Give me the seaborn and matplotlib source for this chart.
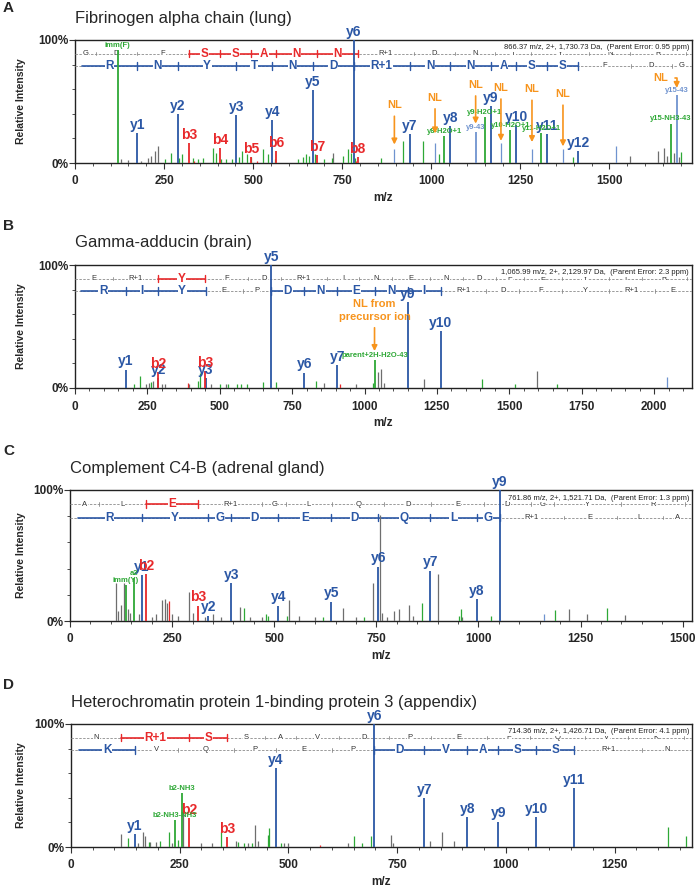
import re
import numpy as np
import matplotlib
matplotlib.use("Agg")
import matplotlib.pyplot as plt
import seaborn as sns

# ------------------------------------------------------------
# Annotated MS/MS spectra of four citrullinated peptides
# ------------------------------------------------------------

panel_tags = ["A", "B", "C", "D"]
titles = ["Fibrinogen alpha chain (lung)",
          "Gamma-adducin (brain)",
          "Complement C4-B (adrenal gland)",
          "Heterochromatin protein 1-binding protein 3 (appendix)"]
parent_info = ["866.37 m/z, 2+, 1,730.73 Da,  (Parent Error: 0.95 ppm)",
               "1,065.99 m/z, 2+, 2,129.97 Da,  (Parent Error: 2.3 ppm)",
               "761.86 m/z, 2+, 1,521.71 Da,  (Parent Error: 1.3 ppm)",
               "714.36 m/z, 2+, 1,426.71 Da,  (Parent Error: 4.1 ppm)"]
parent_da = [1730.73, 2129.97, 1521.71, 1426.71]

# peptide sequences (N -> C) and covered fragment ranges (b row, y row)
A_seq = "G D F S S A N N R+1 D N T Y N R".split()
A_b_cov = [(3, 8)]
A_y_cov = [(0, 12)]
B_seq = "E R+1 Y F D R+1 I N E N D P E Y I R".split()
B_b_cov = [(2, 3)]
B_y_cov = [(0, 3), (5, 10)]
C_seq = "A L E R+1 G L Q D E D G Y R".split()
C_b_cov = [(2, 3)]
C_y_cov = [(0, 9)]
D_seq = "N R+1 S S A V D P E P Q V K".split()
D_b_cov = [(1, 3)]
D_y_cov = [(0, 1), (6, 11)]

# labelled fragment ions
A_ion_lab = ["y1", "y2", "y3", "y4", "y5", "y6", "y7", "y8", "y9", "y10", "y11", "y12",
             "b3", "b4", "b5", "b6", "b7", "b8", "imm(F)", "y8-H2O+1", "y9-43",
             "y9-H2O+1", "y10-H2O+1", "y11-H2O+1", "y15-NH3-43", "y15-43"]
A_ion_mz = [175.12, 289.16, 452.23, 553.27, 667.32, 782.34, 939.43, 1053.47, 1167.51,
            1238.55, 1325.58, 1412.62, 320.12, 407.16, 494.19, 565.23, 679.27, 793.31,
            120.08, 1036.5, 1124.5, 1150.5, 1221.5, 1308.6, 1671.7, 1688.7]
A_ion_int = [24, 40, 39, 35, 59, 100, 23.5, 30, 46, 31, 23.5, 9.5,
             16, 12, 5, 9.5, 6.5, 5, 92, 22, 25, 37, 27, 24, 32, 55]
A_ion_col = ["b"] * 12 + ["r"] * 6 + ["g", "g", "lb", "g", "g", "g", "g", "lb"]

B_ion_lab = ["y1", "y2", "y3", "y5", "y6", "y7", "y9", "y10", "b2", "b3", "parent+2H-H2O-43"]
B_ion_mz = [175.12, 288.16, 451.23, 677.33, 792.36, 906.40, 1149.49, 1262.57, 287.13, 450.20, 1034.5]
B_ion_int = [15, 8, 8, 100, 12.5, 18.5, 70, 46.5, 13, 13.5, 22.5]
B_ion_col = ["b"] * 8 + ["r", "r", "g"]

C_ion_lab = ["y1", "y2", "y3", "y4", "y5", "y6", "y7", "y8", "y9", "b2", "b3", "imm(Y)", "a2"]
C_ion_mz = [175.12, 338.18, 395.20, 510.23, 639.27, 754.30, 882.36, 995.44, 1052.46,
            185.13, 314.17, 136.08, 157.13]
C_ion_int = [35, 4, 28.8, 11.7, 14.7, 41.5, 38.4, 16.5, 100, 36, 11.7, 27.5, 32.6]
C_ion_col = ["b"] * 9 + ["r", "r", "g", "g"]

D_ion_lab = ["y1", "y4", "y6", "y7", "y8", "y9", "y10", "y11", "b2", "b3", "b2-NH3", "b2-NH3-NH3"]
D_ion_mz = [147.11, 471.29, 697.38, 812.41, 911.48, 982.52, 1069.55, 1156.58,
            272.13, 359.17, 255.10, 238.10]
D_ion_int = [10.5, 64, 100, 40, 24.5, 20.7, 24.5, 47.8, 23.4, 8, 43.5, 22]
D_ion_col = ["b"] * 8 + ["r", "r", "g", "g"]

# unlabelled peaks (m/z, relative intensity %, colour code)
A_pk_mz = [128, 150, 185, 204, 213, 224, 233, 723, 1558, 1636, 1652, 1662, 1680, 1695,
           252, 270, 292, 301, 330, 345, 360, 386, 397, 410, 425, 440, 461, 470, 484, 495,
           528, 543, 560, 627, 639, 648, 657, 674, 700, 720, 751, 765, 775, 785, 859, 921,
           976, 1021, 1397, 1700,
           896.4, 1010.5, 1195.5, 1282.6, 1369.6, 1519,
           335, 512, 790]
A_pk_int = [3, 2.5, 2, 4, 6, 9.5, 14, 8, 6, 9.5, 12, 6, 8, 5,
            3, 8, 4, 7, 4, 3, 4, 12, 8, 3, 3, 3, 5, 9.5, 7, 5,
            11, 7.5, 3, 3, 4.5, 7, 6, 7, 3, 4, 6, 11, 8, 4, 4, 18,
            18, 7, 5, 9,
            11, 16, 16, 11, 11, 14,
            2, 2, 2]
A_pk_col = ["k"] * 14 + ["g"] * 36 + ["lb"] * 6 + ["r"] * 3

B_pk_mz = [245, 255, 270, 300, 310, 395, 470, 520, 860, 970, 1046, 1057, 1068, 1207, 1597,
           205, 225, 262, 425, 432, 500, 530, 560, 575, 595, 651, 695, 832, 1028, 1405, 1520, 1665,
           390, 915, 2045]
B_pk_int = [3, 4, 6, 3, 3, 3, 3, 3.5, 4, 3.5, 13, 15.5, 4, 7, 13.5,
            3, 9.5, 5, 6, 12, 3, 3, 3, 3, 3, 5, 5, 5.4, 4, 7, 3.5, 3.5,
            4, 3, 8.6]
B_pk_col = ["k"] * 15 + ["g"] * 17 + ["r", "r", "lb"]

C_pk_mz = [112, 118, 125, 132, 142, 148, 170, 200, 210, 225.6, 232, 237, 250, 265, 291, 300,
           330, 350, 370, 416, 440, 470, 536, 560, 600, 668, 700, 741, 760, 765, 777, 794, 806,
           829, 840, 901, 960, 1221, 1265, 1359,
           425, 480, 485, 531, 620, 720, 861, 953, 958, 1031, 1187, 1314,
           243, 1161]
C_pk_int = [28.7, 8, 12, 29, 9, 6, 5, 3, 5, 16, 17, 14, 5, 4, 22, 6,
            3, 5, 3, 11, 3, 3, 16, 4, 3, 10, 3, 28.8, 81, 6, 3, 8, 9,
            12, 4, 36, 3, 9, 5, 4.6,
            10, 5, 4, 4, 3, 3, 13.5, 4, 9, 4, 8.4, 9.7,
            15, 5]
C_pk_col = ["k"] * 40 + ["g"] * 12 + ["r", "lb"]

D_pk_mz = [116, 155, 166, 171, 182, 195, 232, 258, 300, 325, 380, 408, 424, 430, 490, 500,
           636, 735, 740, 825, 853, 881,
           130, 180, 204, 226, 246, 345, 385, 398, 415, 452, 456, 483, 650, 668, 690, 1372, 1414,
           573]
D_pk_int = [10.5, 3, 12, 8.6, 4, 4, 3, 34, 3, 3, 5, 3, 18, 5, 3, 3,
            3, 9.4, 3, 5, 12, 5,
            7, 4, 5, 12.6, 6, 12.6, 4, 3, 3, 10, 15.3, 3, 8.6, 3, 9, 16.6, 9,
            2]
D_pk_col = ["k"] * 22 + ["g"] * 17 + ["r"]

# neutral-loss call-outs
A_nl_mz = [896.4, 1010.5, 1124.5, 1195.5, 1282.6, 1369.6]
A_nl_text_y = [47, 53, 63.5, 61, 60, 56]
A_nl_tip_y = [15, 24, 32, 18, 17, 13.5]

# ------------------------------------------------------------
RES_MASS = {"G": 57.02146, "A": 71.03711, "S": 87.03203, "P": 97.05276, "V": 99.06841,
            "T": 101.04768, "L": 113.08406, "I": 113.08406, "N": 114.04293, "D": 115.02694,
            "Q": 128.05858, "K": 128.09496, "E": 129.04259, "F": 147.06841, "R": 156.10111,
            "Y": 163.06333, "R+1": 157.08513}
PROTON = 1.00728
WATER = 18.01056

BLUE = "#2b57a5"
RED = "#e8292b"
GREEN = "#2ea836"
GREY = "#6e6e6e"
LBLUE = "#6f93cf"
ORANGE = "#f7941d"
PEAK_COLORS = {"k": GREY, "g": GREEN, "b": BLUE, "r": RED, "lb": LBLUE}

sns.set_theme(style="ticks")
plt.rcParams["font.family"] = ["Liberation Sans", "DejaVu Sans"]

panels = [
    dict(seq=A_seq, b_cov=A_b_cov, y_cov=A_y_cov, ion=(A_ion_lab, A_ion_mz, A_ion_int, A_ion_col),
         pk=(A_pk_mz, A_pk_int, A_pk_col)),
    dict(seq=B_seq, b_cov=B_b_cov, y_cov=B_y_cov, ion=(B_ion_lab, B_ion_mz, B_ion_int, B_ion_col),
         pk=(B_pk_mz, B_pk_int, B_pk_col)),
    dict(seq=C_seq, b_cov=C_b_cov, y_cov=C_y_cov, ion=(C_ion_lab, C_ion_mz, C_ion_int, C_ion_col),
         pk=(C_pk_mz, C_pk_int, C_pk_col)),
    dict(seq=D_seq, b_cov=D_b_cov, y_cov=D_y_cov, ion=(D_ion_lab, D_ion_mz, D_ion_int, D_ion_col),
         pk=(D_pk_mz, D_pk_int, D_pk_col)),
]

# axes boxes in pixels: left, right, top, bottom
boxes = [(75, 692, 40, 163), (75, 692, 265, 388), (70, 692, 490, 621), (71, 692, 724, 847)]
W, H = 696, 890


def draw_row(ax, residues, start, cov, y, color, xmax):
    bounds = start + np.concatenate([[0], np.cumsum([RES_MASS[r] for r in residues])])
    ax.plot([0, xmax], [y, y], color="#9a9a9a", lw=0.7, ls=(0, (2.5, 1.5)), zorder=3)
    for bx in bounds[1:]:
        ax.plot([bx, bx], [y - 1.5, y + 1.5], color="#8a8a8a", lw=0.6, zorder=3)
    for i0, i1 in cov:
        ax.plot([bounds[i0], bounds[i1]], [y, y], color=color, lw=1.2, zorder=4)
        for bx in bounds[i0:i1 + 1]:
            if bx > 0.02 * xmax:
                ax.plot([bx, bx], [y - 3, y + 3], color=color, lw=1.0, zorder=4)
    for i, r in enumerate(residues):
        mid = (bounds[i] + bounds[i + 1]) / 2
        on = any(i0 <= i < i1 for i0, i1 in cov)
        ax.text(mid, y, r, ha="center", va="center",
                fontsize=8.5 if on else 5.5, fontweight="bold" if on else "normal",
                color=color if on else "#333333", zorder=5,
                bbox=dict(facecolor="white", edgecolor="none", pad=0.4))


fig = plt.figure(figsize=(W / 100, H / 100), dpi=100)

for k, p in enumerate(panels):
    l, r, t, b = boxes[k]
    ax = fig.add_axes([l / W, 1 - b / H, (r - l) / W, (b - t) / H])
    xmax = parent_da[k] + PROTON
    ax.set_xlim(0, xmax)
    ax.set_ylim(0, 100)

    # sequence ladders: b ions on top, y ions below
    draw_row(ax, p["seq"], PROTON, p["b_cov"], 89, RED, xmax)
    draw_row(ax, p["seq"][::-1], WATER + PROTON, p["y_cov"], 79, BLUE, xmax)

    mz, inten, col = p["pk"]
    for code, c in PEAK_COLORS.items():
        sel = [i for i, cc in enumerate(col) if cc == code]
        if sel:
            ax.vlines(np.array(mz)[sel], 0, np.array(inten)[sel], colors=c, lw=0.9, zorder=6)

    lab, imz, iint, icol = p["ion"]
    for lb, m, v, cc in zip(lab, imz, iint, icol):
        c = PEAK_COLORS[cc]
        ax.vlines(m, 0, v, colors=c, lw=1.3, zorder=7, clip_on=False)
        big = re.fullmatch(r"[by]\d+", lb) is not None
        ax.text(m, v + 1, lb, ha="center", va="bottom", color=c, zorder=8, clip_on=False,
                fontsize=10 if big else 5.5, fontweight="bold")

    ax.text(0.995, 0.935, parent_info[k], transform=ax.transAxes, ha="right", va="center",
            fontsize=5.5, color="#222222", zorder=5,
            bbox=dict(facecolor="white", edgecolor="none", pad=0.2))

    ax.set_xticks(np.arange(0, xmax, 250))
    ax.set_xticks(np.arange(0, xmax, 50), minor=True)
    ax.set_yticks([0, 100])
    ax.set_yticklabels(["0%", "100%"])
    ax.set_yticks([20, 40, 60, 80], minor=True)
    ax.tick_params(which="major", direction="out", length=4, width=0.8, labelsize=8.5,
                   color="#333333")
    ax.tick_params(which="minor", direction="out", length=2, width=0.6, color="#333333")
    ax.tick_params(axis="x", which="major", pad=5)
    ax.tick_params(axis="y", which="major", pad=1)
    for tl in ax.get_xticklabels() + ax.get_yticklabels():
        tl.set_fontweight("bold")
    for s in ax.spines.values():
        s.set_color("#222222")
        s.set_linewidth(1.0)
    ax.grid(False)

    hpx = b - t
    wpx = r - l
    ax.set_xlabel("m/z", fontsize=8.5, fontweight="bold")
    ax.xaxis.set_label_coords(0.5, -29 / hpx)
    ax.set_ylabel("Relative Intensity", fontsize=7.5, fontweight="bold")
    ax.yaxis.set_label_coords((26 - l) / wpx, 0.5)

    fig.text(l / W, 1 - (t - 22) / H, titles[k], fontsize=12, va="center", ha="left")
    fig.text(3 / W, 1 - max(t - 46, 1) / H, panel_tags[k], fontsize=11, fontweight="bold",
             va="top", ha="left")

    if k == 0:
        for m, ty, tip in zip(A_nl_mz, A_nl_text_y, A_nl_tip_y):
            ax.annotate("NL", xy=(m, tip), xytext=(m, ty), ha="center", va="center",
                        fontsize=8, fontweight="bold", color=ORANGE, zorder=9,
                        arrowprops=dict(arrowstyle="-|>", color=ORANGE, lw=1.2,
                                        mutation_scale=8, shrinkA=2, shrinkB=0))
        ax.annotate("NL", xy=(A_ion_mz[-1], 61), xytext=(1645, 69), ha="center", va="center",
                    fontsize=8, fontweight="bold", color=ORANGE, zorder=9,
                    arrowprops=dict(arrowstyle="-|>", color=ORANGE, lw=1.2, mutation_scale=8,
                                    shrinkA=2, shrinkB=0,
                                    connectionstyle="angle,angleA=0,angleB=90,rad=0"))
    if k == 1:
        ax.annotate("NL from\nprecursor ion", xy=(B_ion_mz[-1], 30), xytext=(B_ion_mz[-1], 63),
                    ha="center", va="center", fontsize=8, fontweight="bold", color=ORANGE,
                    zorder=9, linespacing=1.3,
                    arrowprops=dict(arrowstyle="-|>", color=ORANGE, lw=1.2,
                                    mutation_scale=8, shrinkA=2, shrinkB=0))

fig.savefig("out.png", dpi=100)
